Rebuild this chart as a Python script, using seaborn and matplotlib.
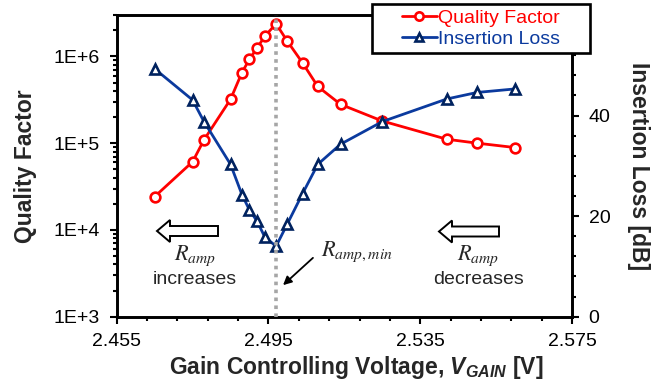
import numpy as np
import matplotlib
matplotlib.use("Agg")
import matplotlib.pyplot as plt
from matplotlib.patches import FancyArrow, Rectangle, FancyArrowPatch
from matplotlib.lines import Line2D
import seaborn as sns

# Gain controlling voltage sweep [V]
v_gain = [2.465, 2.475, 2.478, 2.485, 2.488, 2.490, 2.492, 2.494, 2.497,
          2.500, 2.504, 2.508, 2.514, 2.525, 2.542, 2.550, 2.560]
# Loaded quality factor
quality_factor = [2.42e4, 6.1e4, 1.09e5, 3.2e5, 6.5e5, 9.3e5, 1.25e6, 1.7e6, 2.38e6,
                  1.49e6, 8.4e5, 4.5e5, 2.8e5, 1.8e5, 1.11e5, 1.0e5, 8.9e4]
# Insertion loss [dB]
insertion_loss = [49.3, 43.1, 38.8, 30.3, 24.3, 21.2, 19.0, 15.9, 14.0,
                  18.5, 24.5, 30.3, 34.3, 38.8, 43.3, 44.6, 45.3]
v_min = 2.497

x_major = [2.455, 2.495, 2.535, 2.575]
q_major = [1e3, 1e4, 1e5, 1e6]
q_labels = ["1E+3", "1E+4", "1E+5", "1E+6"]
il_major = [0, 20, 40]

RED = "#FF0000"
BLUE = "#0B3A9E"
NAVY = "#00225F"

sns.set_theme(style="ticks")
plt.rcParams["font.family"] = ["Liberation Sans", "DejaVu Sans"]
plt.rcParams["mathtext.fontset"] = "custom"
plt.rcParams["mathtext.rm"] = "Liberation Sans:bold"
plt.rcParams["mathtext.it"] = "Liberation Sans:italic:bold"
plt.rcParams["mathtext.bf"] = "Liberation Sans:bold"

W, H = 662, 386
fig = plt.figure(figsize=(W / 100, H / 100), dpi=100)
fig.patch.set_facecolor("white")
ax = fig.add_axes([116.7 / W, 1 - 316.7 / H, (572 - 116.7) / W, (316.7 - 15) / H])
ax2 = ax.twinx()

def px(x, y):
    return (x / W, 1 - y / H)

# Quality factor on a log axis
sns.lineplot(x=v_gain, y=quality_factor, ax=ax, color=RED, linewidth=2.0,
             marker="o", markersize=7, markerfacecolor="white",
             markeredgecolor=RED, markeredgewidth=1.9, legend=False)
ax.set_yscale("log")
ax.set_ylim(1e3, 3e6)
ax.set_xlim(2.455, 2.575)

# Insertion loss on the secondary axis
sns.lineplot(x=v_gain, y=insertion_loss, ax=ax2, color=BLUE, linewidth=2.0,
             marker="^", markersize=7.5, markerfacecolor="white",
             markeredgecolor=NAVY, markeredgewidth=1.9, legend=False)
ax2.set_ylim(0, 60)
ax2.axvline(v_min, color="#A6A6A6", linestyle=(0, (1, 1.2)), linewidth=2.6, zorder=5)

# Ticks and spines
ax.set_xticks(x_major)
ax.set_xticklabels([f"{v:.3f}" for v in x_major])
ax.set_xticks(np.linspace(2.455, 2.575, 16), minor=True)
ax.set_yticks(q_major)
ax.set_yticklabels(q_labels)
ax.yaxis.set_minor_locator(matplotlib.ticker.LogLocator(base=10, subs=np.arange(2, 10)))
ax.yaxis.set_minor_formatter(matplotlib.ticker.NullFormatter())
ax2.set_yticks(il_major)
ax2.set_yticks(np.arange(0, 57, 4), minor=True)

for a in (ax, ax2):
    for s in a.spines.values():
        s.set_linewidth(1.9)
        s.set_color("black")
    a.tick_params(which="major", direction="out", length=5, width=1.5,
                  color="black", labelsize=14, pad=7, labelcolor="black")
    a.tick_params(which="minor", direction="out", length=3.2, width=1.5, color="black")

ax.set_ylabel("Quality Factor", fontsize=16.5, fontweight="bold", labelpad=12)
ax2.set_ylabel("Insertion Loss [dB]", fontsize=16.5, fontweight="bold",
               rotation=270, va="bottom", labelpad=12)
ax.set_xlabel("Gain Controlling Voltage, $V_{GAIN}$ [V]", fontsize=16.5,
              fontweight="bold")
ax.xaxis.set_label_coords(0.525, -0.125)

# Legend with a framed box overlapping the top-right corner
x0, y0, x1, y1 = 372, 4, 590, 53
fig.add_artist(Rectangle(px(x0, y1), (x1 - x0) / W, (y1 - y0) / H,
                         transform=fig.transFigure, facecolor="white",
                         edgecolor="black", linewidth=1.9, zorder=4.9))
handles = [
    Line2D([], [], color=RED, linewidth=2.0, marker="o", markersize=6,
           markerfacecolor="white", markeredgecolor=RED, markeredgewidth=1.9),
    Line2D([], [], color=BLUE, linewidth=2.0, marker="^", markersize=6,
           markerfacecolor="white", markeredgecolor=NAVY, markeredgewidth=1.9),
]
leg = fig.legend(handles, ["Quality Factor", "Insertion Loss"], loc="center",
                 bbox_to_anchor=px((x0 + x1) / 2, (y0 + y1) / 2), frameon=False,
                 fontsize=14, handlelength=1.8, handletextpad=0.1,
                 labelspacing=0.15, borderpad=0.0)
leg.set_zorder(5)
for t, c in zip(leg.get_texts(), [RED, BLUE]):
    t.set_color(c)

# Hollow block arrows showing the direction of R_amp
ins = fig.dpi_scale_trans
for tail, tip, yy in [(218, 157, 231), (499, 439, 231.5)]:
    fig.add_artist(FancyArrow(tail / 100, (H - yy) / 100, (tip - tail) / 100, 0,
                              width=0.10, head_width=0.22, head_length=0.13,
                              length_includes_head=True, facecolor="white",
                              edgecolor="black", linewidth=1.4, transform=ins))

fig.text(*px(195, 256), "$R_{amp}$", fontsize=16, ha="center", va="center",
         math_fontfamily="stix")
fig.text(*px(195, 279), "increases", fontsize=14, ha="center", va="center")
fig.text(*px(478, 256), "$R_{amp}$", fontsize=16, ha="center", va="center",
         math_fontfamily="stix")
fig.text(*px(478, 279), "decreases", fontsize=14, ha="center", va="center")
fig.text(*px(321, 252), "$R_{amp,min}$", fontsize=16, ha="left", va="center",
         math_fontfamily="stix")
fig.add_artist(FancyArrowPatch(
    px(315, 256), px(281, 287), transform=fig.transFigure,
    arrowstyle="-|>,head_length=5,head_width=2.5", color="black",
    linewidth=1.3, zorder=6))

fig.savefig("out.png", dpi=100, facecolor="white")
